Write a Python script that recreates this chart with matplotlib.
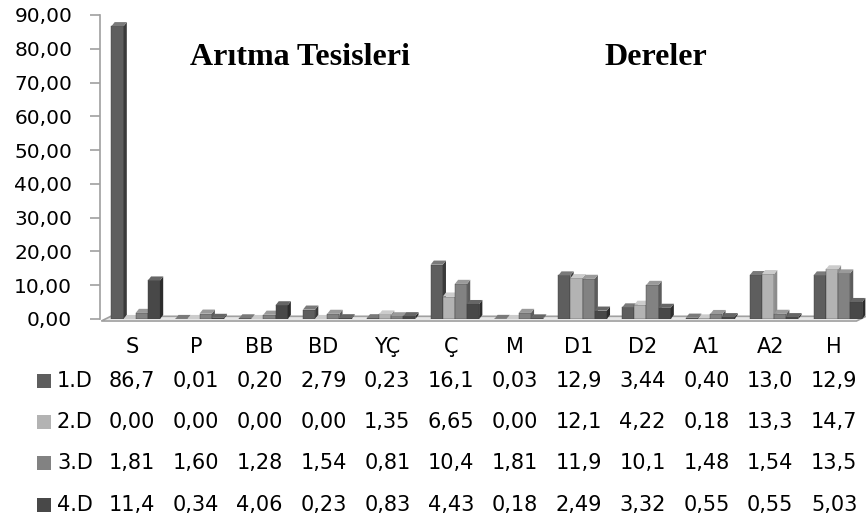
import matplotlib
matplotlib.use("Agg")
import matplotlib.pyplot as plt
from matplotlib.patches import Polygon, Rectangle
import matplotlib.transforms as mtransforms
import numpy as np

categories = ["S", "P", "BB", "BD", "YÇ", "Ç", "M", "D1", "D2", "A1", "A2", "H"]
series_names = ["1.D", "2.D", "3.D", "4.D"]
d1 = [86.7, 0.01, 0.20, 2.79, 0.23, 16.1, 0.03, 12.9, 3.44, 0.40, 13.0, 12.9]
d2 = [0.00, 0.00, 0.00, 0.00, 1.35, 6.65, 0.00, 12.1, 4.22, 0.18, 13.3, 14.7]
d3 = [1.81, 1.60, 1.28, 1.54, 0.81, 10.4, 1.81, 11.9, 10.1, 1.48, 1.54, 13.5]
d4 = [11.4, 0.34, 4.06, 0.23, 0.83, 4.43, 0.18, 2.49, 3.32, 0.55, 0.55, 5.03]
table_labels = [
    ["86,7", "0,01", "0,20", "2,79", "0,23", "16,1", "0,03", "12,9", "3,44", "0,40", "13,0", "12,9"],
    ["0,00", "0,00", "0,00", "0,00", "1,35", "6,65", "0,00", "12,1", "4,22", "0,18", "13,3", "14,7"],
    ["1,81", "1,60", "1,28", "1,54", "0,81", "10,4", "1,81", "11,9", "10,1", "1,48", "1,54", "13,5"],
    ["11,4", "0,34", "4,06", "0,23", "0,83", "4,43", "0,18", "2,49", "3,32", "0,55", "0,55", "5,03"],
]

front = ["#5e5e5e", "#b3b3b3", "#828282", "#484848"]
side = ["#3a3a3a", "#8c8c8c", "#5c5c5c", "#2c2c2c"]
top = ["#7a7a7a", "#cccccc", "#9a9a9a", "#666666"]

W, H = 866, 525
fig = plt.figure(figsize=(W / 100, H / 100), dpi=100)
ax = fig.add_axes([100 / W, 1 - 319 / H, 766 / W, 304 / H])

x = np.arange(len(categories))
bw = 0.19
dx, dy = 0.05, 1.2   # pseudo 3d depth
shift = 0.06
for k, vals in enumerate([d1, d2, d3, d4]):
    xs = x + shift + (k - 1.5) * bw
    ax.bar(xs, vals, width=bw, color=front[k], edgecolor="#3c3c3c", linewidth=0.3, zorder=3 + k)
    for xi, v in zip(xs, vals):
        l, r = xi - bw / 2, xi + bw / 2
        ax.add_patch(Polygon([(r, 0), (r + dx, dy), (r + dx, v + dy), (r, v)],
                             closed=True, facecolor=side[k], edgecolor="none", zorder=3 + k))
        ax.add_patch(Polygon([(l, v), (l + dx, v + dy), (r + dx, v + dy), (r, v)],
                             closed=True, facecolor=top[k], edgecolor="none", zorder=3 + k))

# floor
x0, x1 = -0.5, 11.5
ax.add_patch(Polygon([(x0 + 0.02, -0.6), (x0 + 0.02 + dx * 3, 0.8), (x1, 0.8), (x1 - dx * 3, -0.6)],
                     closed=True, facecolor="#e6e6e6", edgecolor="#a0a0a0", linewidth=1.2,
                     zorder=2, clip_on=False))

ax.set_xlim(x0, x1)
ax.set_ylim(0, 90)
ax.set_yticks(np.arange(0, 91, 10))
ax.set_yticklabels(["%d,00" % t for t in range(0, 91, 10)], fontsize=14.5, family="DejaVu Sans")
ax.tick_params(axis="y", length=7, color="#a0a0a0", width=1.2, pad=13)
ax.set_xticks([])
for s in ["top", "right", "bottom"]:
    ax.spines[s].set_visible(False)
ax.spines["left"].set_color("#a0a0a0")
ax.spines["left"].set_linewidth(1.2)

ax.text(0.91, 77.3, "Arıtma Tesisleri", family="Liberation Serif", fontweight="bold",
        fontsize=23, va="center", ha="left")
ax.text(7.41, 77.3, "Dereler", family="Liberation Serif", fontweight="bold",
        fontsize=23, va="center", ha="left")

# data table
tr = mtransforms.blended_transform_factory(ax.transData, fig.transFigure)
for i, c in enumerate(categories):
    fig.text(x[i], 1 - 347 / H, c, transform=tr, ha="center", va="center",
             fontsize=15, family="DejaVu Sans")
rows_y = [381, 422, 463, 505]
for r in range(4):
    y = 1 - rows_y[r] / H
    fig.add_artist(Rectangle((37 / W, y - 7 / H), 14 / W, 14 / H, transform=fig.transFigure,
                             facecolor=front[r], edgecolor="none"))
    fig.text(57 / W, y, series_names[r], ha="left", va="center", fontsize=15,
             family="DejaVu Sans")
    for i in range(len(categories)):
        fig.text(x[i], y, table_labels[r][i], transform=tr, ha="center", va="center",
                 fontsize=15, family="DejaVu Sans")

fig.savefig("out.png", dpi=100)
